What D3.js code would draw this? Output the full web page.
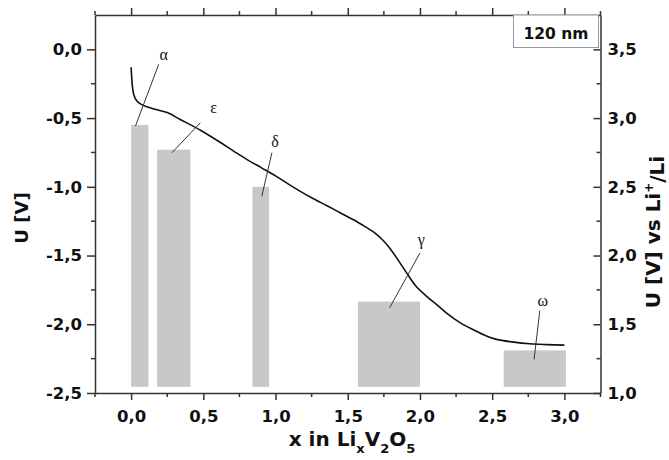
<!DOCTYPE html>
<html>
<head>
<meta charset="utf-8">
<script src="https://cdn.jsdelivr.net/npm/d3@7"></script>
<style>
  body { margin: 0; background: #fff; }
  .axis text { font-family: "DejaVu Sans", sans-serif; font-weight: bold; font-size: 16.5px; fill: #111; }
  .axis path, .axis line { stroke: #333; stroke-width: 1.5; }
  .title { font-family: "DejaVu Sans", sans-serif; font-weight: bold; fill: #111; }
  .greek { font-family: "Liberation Serif", serif; font-size: 16px; fill: #111; }
</style>
</head>
<body>
<svg width="669" height="460"></svg>
<script>
// discharge curve, x in LixV2O5 vs U [V]
var curveX = [0.0, 0.004, 0.01, 0.02, 0.04, 0.07, 0.11, 0.18, 0.25, 0.34, 0.48, 0.6, 0.71, 0.8, 0.9, 1.0,
              1.12, 1.25, 1.36, 1.45, 1.54, 1.62, 1.68, 1.74, 1.79, 1.85, 1.91, 1.97, 2.05, 2.12, 2.18,
              2.28, 2.37, 2.46, 2.53, 2.65, 2.76, 2.88, 3.0];
var curveU = [-0.13, -0.2, -0.28, -0.335, -0.375, -0.4, -0.418, -0.44, -0.46, -0.51, -0.588, -0.665, -0.74, -0.8, -0.86, -0.92,
              -1.0, -1.08, -1.14, -1.19, -1.24, -1.29, -1.33, -1.385, -1.445, -1.535, -1.63, -1.72, -1.8, -1.86, -1.915,
              -1.99, -2.04, -2.085, -2.11, -2.13, -2.142, -2.148, -2.152];

// phase bars
var phaseNames = ['α', 'ε', 'δ', 'γ', 'ω'];
var barStart = [0.0, 0.18, 0.84, 1.57, 2.58];
var barEnd = [0.12, 0.41, 0.955, 2.0, 3.01];
var barTop = [-0.55, -0.73, -1.0, -1.835, -2.19];
var barBase = -2.455;

// phase labels and leader lines (data units)
var labelX = [0.225, 0.571, 0.997, 2.01, 2.85];
var labelU = [-0.045, -0.425, -0.675, -1.39, -1.83];
var leadX1 = [0.191, 0.479, 0.975, 2.0, 2.83];
var leadU1 = [-0.109, -0.534, -0.752, -1.481, -1.9];
var leadX2 = [0.03, 0.283, 0.905, 1.79, 2.79];
var leadU2 = [-0.558, -0.752, -1.068, -1.88, -2.255];

var xTicks = [0, 0.5, 1.0, 1.5, 2.0, 2.5, 3.0];
var xMinor = [-0.25, 0.25, 0.75, 1.25, 1.75, 2.25, 2.75, 3.25];
var leftTicks = [-2.5, -2.0, -1.5, -1.0, -0.5, 0.0];
var leftMinor = [-2.25, -1.75, -1.25, -0.75, -0.25];
var rightTicks = [1.0, 1.5, 2.0, 2.5, 3.0, 3.5];
var rightMinor = [1.25, 1.75, 2.25, 2.75, 3.25];

var svg = d3.select('svg');
var pLeft = 95, pRight = 600.5, pTop = 15, pBottom = 393;

var x = d3.scaleLinear().domain([-0.25, 3.25]).range([pLeft, pRight]);
var y = d3.scaleLinear().domain([-2.5, 0.25]).range([pBottom, pTop]);
var yR = d3.scaleLinear().domain([1.0, 3.75]).range([pBottom, pTop]);

var fmt = function(d) { return d3.format('.1f')(d).replace('.', ',').replace('−', '-'); };

// bars
svg.append('g').selectAll('rect')
  .data(phaseNames)
  .enter().append('rect')
  .attr('x', function(d, i) { return x(barStart[i]); })
  .attr('width', function(d, i) { return x(barEnd[i]) - x(barStart[i]); })
  .attr('y', function(d, i) { return y(barTop[i]); })
  .attr('height', function(d, i) { return y(barBase) - y(barTop[i]); })
  .attr('fill', '#c8c8c8');

// curve
var line = d3.line()
  .x(function(d) { return x(d); })
  .y(function(d, i) { return y(curveU[i]); })
  .curve(d3.curveCatmullRom.alpha(0.5));
svg.append('path')
  .datum(curveX)
  .attr('d', line)
  .attr('fill', 'none')
  .attr('stroke', '#111')
  .attr('stroke-width', 1.6);

// leader lines + greek labels
svg.append('g').selectAll('line')
  .data(phaseNames)
  .enter().append('line')
  .attr('x1', function(d, i) { return x(leadX1[i]); })
  .attr('y1', function(d, i) { return y(leadU1[i]); })
  .attr('x2', function(d, i) { return x(leadX2[i]); })
  .attr('y2', function(d, i) { return y(leadU2[i]); })
  .attr('stroke', '#333')
  .attr('stroke-width', 1);
svg.append('g').selectAll('text')
  .data(phaseNames)
  .enter().append('text')
  .attr('class', 'greek')
  .attr('x', function(d, i) { return x(labelX[i]); })
  .attr('y', function(d, i) { return y(labelU[i]); })
  .attr('dy', '0.3em')
  .attr('text-anchor', 'middle')
  .text(function(d) { return d; });

// axes
function minorTicks(g, vals, scale, orient, len) {
  g.selectAll('.minor').data(vals).enter().append('line')
    .attr('class', 'minor')
    .attr(orient === 'h' ? 'x1' : 'y1', function(d) { return scale(d); })
    .attr(orient === 'h' ? 'x2' : 'y2', function(d) { return scale(d); })
    .attr(orient === 'h' ? 'y1' : 'x1', 0)
    .attr(orient === 'h' ? 'y2' : 'x2', len);
}

var gBottom = svg.append('g').attr('class', 'axis').attr('transform', 'translate(0,' + pBottom + ')')
  .call(d3.axisBottom(x).tickValues(xTicks).tickFormat(fmt).tickSize(7).tickSizeOuter(0).tickPadding(10));
minorTicks(gBottom, xMinor, x, 'h', 4);

var gTop = svg.append('g').attr('class', 'axis').attr('transform', 'translate(0,' + pTop + ')')
  .call(d3.axisTop(x).tickValues(xTicks).tickFormat('').tickSize(7).tickSizeOuter(0));
minorTicks(gTop, xMinor, x, 'h', -4);

var gLeft = svg.append('g').attr('class', 'axis').attr('transform', 'translate(' + pLeft + ',0)')
  .call(d3.axisLeft(y).tickValues(leftTicks).tickFormat(fmt).tickSize(8).tickSizeOuter(0).tickPadding(5));
minorTicks(gLeft, leftMinor, y, 'v', -4);

var gRight = svg.append('g').attr('class', 'axis').attr('transform', 'translate(' + pRight + ',0)')
  .call(d3.axisRight(yR).tickValues(rightTicks).tickFormat(fmt).tickSize(-7).tickSizeOuter(0).tickPadding(7));
minorTicks(gRight, rightMinor, yR, 'v', -4);

// legend box
svg.append('rect')
  .attr('x', 513.5).attr('y', pTop)
  .attr('width', 85).attr('height', 32.5)
  .attr('fill', '#fff').attr('stroke', '#999').attr('stroke-width', 1);
svg.append('text')
  .attr('class', 'title')
  .attr('x', 556).attr('y', 38.5)
  .attr('text-anchor', 'middle')
  .style('font-size', '15.5px')
  .text('120 nm');

// axis titles
svg.append('text')
  .attr('class', 'title')
  .attr('transform', 'translate(22,218) rotate(-90)')
  .attr('text-anchor', 'middle')
  .attr('dy', '0.36em')
  .style('font-size', '18px')
  .text('U [V]');

var rt = svg.append('text')
  .attr('class', 'title')
  .attr('transform', 'translate(653,232) rotate(-90)')
  .attr('text-anchor', 'middle')
  .attr('dy', '0.35em')
  .style('font-size', '20px');
rt.append('tspan').text('U [V] vs Li');
rt.append('tspan').attr('dy', '-0.55em').style('font-size', '12px').text('+');
rt.append('tspan').attr('dy', '0.55em').text('/Li');

var bt = svg.append('text')
  .attr('class', 'title')
  .attr('x', 352).attr('y', 446)
  .attr('text-anchor', 'middle')
  .style('font-size', '20px');
bt.append('tspan').text('x in Li');
bt.append('tspan').attr('dy', 7).style('font-size', '13px').text('x');
bt.append('tspan').attr('dy', -7).text('V');
bt.append('tspan').attr('dy', 7).style('font-size', '13px').text('2');
bt.append('tspan').attr('dy', -7).text('O');
bt.append('tspan').attr('dy', 7).style('font-size', '13px').text('5');
</script>
</body>
</html>
